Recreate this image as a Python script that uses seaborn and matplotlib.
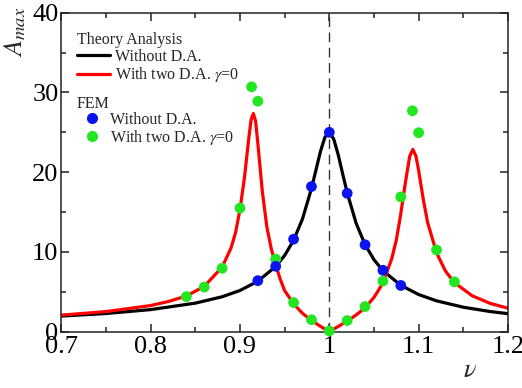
import matplotlib
matplotlib.use('Agg')
import matplotlib.pyplot as plt
import seaborn as sns

# theory curves
nu_black = [0.70, 0.75, 0.80, 0.85, 0.88, 0.90, 0.92, 0.94, 0.95, 0.96, 0.97, 0.98, 0.985, 0.99, 0.995,
            1.00, 1.005, 1.01, 1.015, 1.02, 1.03, 1.04, 1.05, 1.06, 1.08, 1.10, 1.12, 1.15, 1.18, 1.20]
a_black = [1.96, 2.28, 2.77, 3.58, 4.38, 5.17, 6.33, 8.18, 9.56, 11.46, 14.15, 17.95, 20.25, 22.57, 24.37,
           25.0, 24.14, 22.16, 19.76, 17.42, 13.60, 10.92, 9.03, 7.65, 5.82, 4.66, 3.87, 3.07, 2.53, 2.26]

nu_red = [0.70, 0.75, 0.80, 0.82, 0.84, 0.86, 0.88, 0.89, 0.895, 0.90, 0.905, 0.91, 0.9125, 0.915, 0.9175,
          0.92, 0.925, 0.93, 0.935, 0.94, 0.945, 0.95, 0.96, 0.97, 0.98, 0.99, 1.00, 1.01, 1.02, 1.03, 1.04,
          1.05, 1.06, 1.07, 1.075, 1.08, 1.085, 1.09, 1.0935, 1.097, 1.10, 1.105, 1.11, 1.12, 1.13, 1.14,
          1.16, 1.18, 1.20]
a_red = [2.08, 2.52, 3.28, 3.79, 4.48, 5.68, 8.1, 10.5, 12.4, 15.3, 19.3, 24.4, 26.6, 27.35, 26.4,
         23.6, 17.6, 13.2, 10.4, 8.4, 6.6, 5.15, 3.5, 2.3, 1.42, 0.68, 0.0, 0.66, 1.33, 2.1, 3.0,
         4.3, 6.1, 9.2, 11.5, 14.8, 18.6, 22.0, 22.86, 22.0, 20.2, 16.7, 13.7, 9.9, 7.6, 6.15,
         4.5, 3.55, 2.95]

# FEM results
nu_fem_blue = [0.92, 0.94, 0.96, 0.98, 1.00, 1.02, 1.04, 1.06, 1.08]
a_fem_blue = [6.4, 8.2, 11.6, 18.2, 25.0, 17.35, 10.9, 7.7, 5.8]
nu_fem_green = [0.84, 0.86, 0.88, 0.90, 0.913, 0.92, 0.94, 0.96, 0.98, 1.00, 1.02, 1.04, 1.06,
                1.08, 1.093, 1.10, 1.12, 1.14]
a_fem_green = [4.4, 5.6, 7.95, 15.5, 30.7, 28.9, 9.1, 3.65, 1.5, 0.1, 1.4, 3.15, 6.35,
               16.9, 27.7, 24.95, 10.25, 6.25]

sns.set_style('ticks')
plt.rcParams['font.family'] = ['Liberation Serif', 'DejaVu Serif']
plt.rcParams['mathtext.fontset'] = 'stix'

fig = plt.figure(figsize=(5.22, 3.88), dpi=100)
ax = fig.add_axes([0.1174, 0.1451, 0.8558, 0.8222])

ax.axvline(1.0, color='#333333', lw=1.0, dashes=(7, 4), zorder=1)

sns.lineplot(x=nu_black, y=a_black, color='black', lw=2.3, ax=ax, label='Without D.A.')
sns.lineplot(x=nu_red, y=a_red, color='#ff0000', lw=2.3, ax=ax, label=r'With two D.A. $\gamma$=0')
sns.scatterplot(x=nu_fem_green, y=a_fem_green, color='#22e622', s=60, edgecolor='none', ax=ax,
                zorder=4, clip_on=False)
sns.scatterplot(x=nu_fem_blue, y=a_fem_blue, color='#0a14f0', s=60, edgecolor='none', ax=ax,
                zorder=5, clip_on=False)

ax.set_xlim(0.7, 1.2)
ax.set_ylim(0, 40)
ax.set_xticks([0.7, 0.8, 0.9, 1.0, 1.1, 1.2])
ax.set_xticklabels(['0.7', '0.8', '0.9', '1', '1.1', '1.2'])
ax.set_xticks([0.75, 0.85, 0.95, 1.05, 1.15], minor=True)
ax.set_yticks([0, 10, 20, 30, 40])
ax.set_yticks([5, 15, 25, 35], minor=True)
ax.tick_params(which='both', direction='in', top=True, right=True, width=1.1, colors='#222222')
ax.tick_params(which='major', length=6, labelsize=19, labelcolor='black')
ax.tick_params(axis='x', which='major', pad=3)
ax.tick_params(axis='y', which='major', pad=2)
ax.tick_params(which='minor', length=3.5)
for s in ax.spines.values():
    s.set_linewidth(1.1)
    s.set_color('#222222')

ax.set_ylabel(r'$A_{max}$', fontsize=19, labelpad=0)
ax.yaxis.set_label_coords(-0.075, 0.94)
ax.set_xlabel(r'$\nu$', fontsize=19)
ax.xaxis.set_label_coords(0.915, -0.09)

handles, labels = ax.get_legend_handles_labels()
leg1 = ax.legend(handles[:2], labels[:2], title='Theory Analysis', loc='upper left',
                 bbox_to_anchor=(0.035, 0.94), frameon=False, fontsize=11.5, title_fontsize=11.5,
                 alignment='left', handlelength=2.1, handletextpad=0.3, labelspacing=0.05,
                 borderpad=0, borderaxespad=0)
ax.add_artist(leg1)

h_blue = plt.Line2D([], [], ls='none', marker='o', ms=8, color='#0a14f0', mec='none')
h_green = plt.Line2D([], [], ls='none', marker='o', ms=8, color='#22e622', mec='none')
ax.legend([h_blue, h_green], ['Without D.A.', r'With two D.A. $\gamma$=0'], title='FEM',
          loc='upper left', bbox_to_anchor=(0.035, 0.74), frameon=False, fontsize=11.5,
          title_fontsize=11.5, alignment='left', handlelength=1.9, handletextpad=0.15,
          labelspacing=0.0, borderpad=0, borderaxespad=0)

fig.savefig('out.png', dpi=100)
